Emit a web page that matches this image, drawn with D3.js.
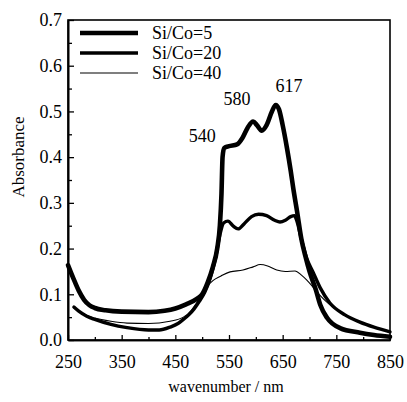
<!DOCTYPE html>
<html>
<head>
<meta charset="utf-8">
<script src="https://cdn.jsdelivr.net/npm/d3@7"></script>
<style>
  body { margin: 0; background: #fff; }
  svg text { font-family: "Liberation Serif", "Times New Roman", serif; fill: #000; }
</style>
</head>
<body>
<div class="graph"></div>
<script>
// series data (wavelength nm, absorbance)
const nm_5 = [250, 260, 270, 280, 290, 300, 320, 350, 400, 430, 450, 470, 490, 500, 510, 520, 528, 533, 536, 538, 541, 550, 565, 575, 585, 595, 602, 611, 620, 630, 637, 643, 650, 658, 665, 670, 677, 685, 692, 700, 712, 720, 733, 757, 794, 820, 850];
const abs_5 = [0.164, 0.135, 0.108, 0.088, 0.076, 0.070, 0.065, 0.062, 0.061, 0.064, 0.069, 0.078, 0.090, 0.100, 0.125, 0.160, 0.200, 0.250, 0.320, 0.400, 0.420, 0.424, 0.428, 0.442, 0.465, 0.478, 0.470, 0.458, 0.470, 0.500, 0.514, 0.505, 0.470, 0.420, 0.370, 0.330, 0.280, 0.220, 0.185, 0.150, 0.109, 0.077, 0.048, 0.026, 0.016, 0.011, 0.007];

const nm_20 = [261, 270, 285, 300, 330, 360, 400, 420, 440, 455, 465, 475, 485, 495, 505, 515, 525, 533, 540, 548, 558, 567, 578, 592, 605, 620, 635, 645, 655, 665, 672, 676, 685, 695, 706, 720, 738, 766, 794, 820, 850];
const abs_20 = [0.072, 0.063, 0.052, 0.045, 0.034, 0.027, 0.022, 0.022, 0.028, 0.036, 0.045, 0.055, 0.068, 0.085, 0.105, 0.135, 0.180, 0.230, 0.256, 0.260, 0.249, 0.243, 0.254, 0.270, 0.275, 0.272, 0.262, 0.258, 0.262, 0.270, 0.272, 0.262, 0.220, 0.178, 0.150, 0.114, 0.081, 0.055, 0.039, 0.028, 0.018];

const nm_40 = [261, 280, 300, 330, 360, 400, 440, 465, 480, 490, 500, 510, 520, 535, 552, 576, 595, 608, 622, 639, 655, 673, 685, 695, 705, 720, 735, 766, 794, 820, 850];
const abs_40 = [0.070, 0.056, 0.048, 0.041, 0.037, 0.036, 0.041, 0.050, 0.065, 0.082, 0.100, 0.118, 0.130, 0.140, 0.149, 0.153, 0.160, 0.165, 0.162, 0.153, 0.150, 0.151, 0.142, 0.131, 0.118, 0.097, 0.080, 0.055, 0.039, 0.028, 0.018];

const series_names = ['Si/Co=5', 'Si/Co=20', 'Si/Co=40'];

const x_ticks = [250, 350, 450, 550, 650, 750, 850];
const x_minor = [300, 400, 500, 600, 700, 800];
const y_ticks = [0.0, 0.1, 0.2, 0.3, 0.4, 0.5, 0.6, 0.7];
const y_minor = [0.05, 0.15, 0.25, 0.35, 0.45, 0.55, 0.65];

const peak_labels = ['540', '580', '617'];
const peak_nm = [500, 565, 662];
const peak_abs = [0.433, 0.514, 0.543];

/* layout */
const svg_dimensions = { width: 407, height: 402 };
const plot = { left: 68, right: 390, top: 20, bottom: 340 };
const widths = [4.6, 3.4, 1.1];

const xScale = d3.scaleLinear().domain([250, 850]).range([plot.left, plot.right]);
const yScale = d3.scaleLinear().domain([0, 0.7]).range([plot.bottom, plot.top]);

const svg = d3.select('.graph').append('svg')
    .attr('width', svg_dimensions.width)
    .attr('height', svg_dimensions.height);

// frame
svg.append('rect')
    .attr('x', plot.left).attr('y', plot.top)
    .attr('width', plot.right - plot.left).attr('height', plot.bottom - plot.top)
    .attr('fill', 'none').attr('stroke', '#000').attr('stroke-width', 1.6);

// axes, ticks pointing inward
svg.append('g')
    .attr('transform', 'translate(0,' + plot.bottom + ')')
    .call(d3.axisBottom(xScale).tickValues(x_ticks).tickSizeInner(-5).tickSizeOuter(0).tickPadding(15).tickFormat(d3.format('d')));
svg.append('g')
    .attr('transform', 'translate(0,' + plot.bottom + ')')
    .call(d3.axisBottom(xScale).tickValues(x_minor).tickSizeInner(-3).tickSizeOuter(0).tickFormat(''));

svg.append('g')
    .attr('transform', 'translate(' + plot.left + ',0)')
    .call(d3.axisLeft(yScale).tickValues(y_ticks).tickSizeInner(-6).tickSizeOuter(0).tickPadding(6).tickFormat(d3.format('.1f')));
svg.append('g')
    .attr('transform', 'translate(' + plot.left + ',0)')
    .call(d3.axisLeft(yScale).tickValues(y_minor).tickSizeInner(-4).tickSizeOuter(0).tickFormat(''));

svg.selectAll('.domain').attr('stroke', '#000').attr('stroke-width', 1.6);
svg.selectAll('.tick line').attr('stroke', '#000').attr('stroke-width', 1.3);
svg.selectAll('.tick text')
    .style('font-family', '"Liberation Serif", serif')
    .style('font-size', '18px')
    .attr('fill', '#000');

// axis titles
svg.append('text')
    .attr('transform', 'rotate(-90)')
    .attr('x', -157).attr('y', 24)
    .attr('text-anchor', 'middle')
    .style('font-size', '17px')
    .text('Absorbance');

svg.append('text')
    .attr('x', 226).attr('y', 392)
    .attr('text-anchor', 'middle')
    .style('font-size', '16px')
    .text('wavenumber / nm');

// curves
const all_series = [
    d3.zip(nm_5, abs_5),
    d3.zip(nm_20, abs_20),
    d3.zip(nm_40, abs_40)
];

const line = d3.line()
    .x(d => xScale(d[0]))
    .y(d => yScale(d[1]))
    .curve(d3.curveMonotoneX);

svg.selectAll('path.curve')
    .data(all_series)
    .enter().append('path')
    .attr('class', 'curve')
    .attr('d', line)
    .attr('fill', 'none')
    .attr('stroke', '#000')
    .attr('stroke-width', (d, i) => widths[i])
    .attr('stroke-linejoin', 'round')
    .attr('stroke-linecap', 'round');

// peak labels
svg.selectAll('text.peak')
    .data(peak_labels)
    .enter().append('text')
    .attr('class', 'peak')
    .attr('x', (d, i) => xScale(peak_nm[i]))
    .attr('y', (d, i) => yScale(peak_abs[i]))
    .attr('text-anchor', 'middle')
    .style('font-size', '18px')
    .text(d => d);

// legend
const legend = svg.append('g').attr('transform', 'translate(80,33)');
series_names.forEach((name, i) => {
    legend.append('line')
        .attr('x1', 0).attr('x2', 58)
        .attr('y1', i * 20).attr('y2', i * 20)
        .attr('stroke', '#000')
        .attr('stroke-width', widths[i]);
    legend.append('text')
        .attr('x', 72).attr('y', i * 20 + 6)
        .style('font-size', '18px')
        .text(name);
});
</script>
</body>
</html>
